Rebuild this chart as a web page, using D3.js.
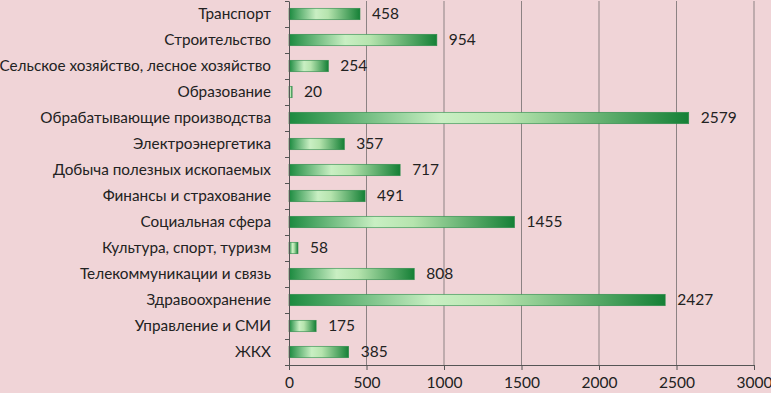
<!DOCTYPE html>
<html>
<head>
<meta charset="utf-8">
<script src="https://cdn.jsdelivr.net/npm/d3@7"></script>
<style>
  body { margin: 0; background: #f0d4d7; }
  svg { display: block; font-family: Lato, "Open Sans", sans-serif; }
  .axis path, .axis line { stroke: #555; }
  .axis text { fill: #222; }
</style>
</head>
<body>
<div id="chart"></div>
<script>
var categories = ["Транспорт", "Строительство", "Сельское хозяйство, лесное хозяйство",
  "Образование", "Обрабатывающие производства", "Электроэнергетика",
  "Добыча полезных ископаемых", "Финансы и страхование", "Социальная сфера",
  "Культура, спорт, туризм", "Телекоммуникации и связь", "Здравоохранение",
  "Управление и СМИ", "ЖКХ"];
var values = [458, 954, 254, 20, 2579, 357, 717, 491, 1455, 58, 808, 2427, 175, 385];
var xTicks = [0, 500, 1000, 1500, 2000, 2500, 3000];

var margin = { top: 1, right: 17, bottom: 28, left: 289 },
  width = 771 - margin.left - margin.right,
  height = 393 - margin.top - margin.bottom;

var x = d3.scaleLinear().domain([0, 3000]).range([0, width]);
var y = d3.scaleBand().domain(categories).range([0, height])
  .paddingInner(0.56).paddingOuter(0.28);
var yEdge = d3.scaleLinear().domain([0, categories.length]).range([0, height]);

var svg = d3.select("#chart").append("svg")
  .attr("width", 771)
  .attr("height", 393);

var defs = svg.append("defs");
var grad = defs.append("linearGradient").attr("id", "barGrad")
  .attr("x1", "0%").attr("x2", "100%").attr("y1", "0%").attr("y2", "0%");
grad.append("stop").attr("offset", "0%").attr("stop-color", "#1b8a3f");
grad.append("stop").attr("offset", "38%").attr("stop-color", "#c9efc3");
grad.append("stop").attr("offset", "55%").attr("stop-color", "#b6e4ae");
grad.append("stop").attr("offset", "100%").attr("stop-color", "#158036");

var g = svg.append("g")
  .attr("transform", "translate(" + margin.left + "," + margin.top + ")");

// gridlines
g.selectAll(".grid").data(xTicks.slice(1)).enter().append("line")
  .attr("class", "grid")
  .attr("x1", function (d) { return x(d); })
  .attr("x2", function (d) { return x(d); })
  .attr("y1", 0).attr("y2", height)
  .attr("stroke", "#8c8283").attr("stroke-width", 1);

// bars
g.selectAll(".bar").data(values).enter().append("rect")
  .attr("class", "bar")
  .attr("x", 0)
  .attr("y", function (d, i) { return y(categories[i]); })
  .attr("width", function (d) { return x(d); })
  .attr("height", y.bandwidth())
  .attr("fill", "url(#barGrad)")
  .attr("stroke", "#2b8c4a").attr("stroke-width", 0.6);

// value labels
g.selectAll(".val").data(values).enter().append("text")
  .attr("class", "val")
  .attr("x", function (d) { return x(d) + 12; })
  .attr("y", function (d, i) { return y(categories[i]) + y.bandwidth() / 2; })
  .attr("dy", "0.35em")
  .attr("font-size", 15.5)
  .attr("fill", "#222")
  .text(function (d) { return d; });

// y axis: category labels
g.append("g")
  .attr("class", "axis")
  .call(d3.axisLeft(y).tickSize(0).tickPadding(18))
  .call(function (s) { s.select(".domain").remove(); })
  .selectAll("text").attr("font-size", 15.3).style("font-family", "Lato, 'Open Sans', sans-serif");

// y axis line with ticks between categories
g.append("g")
  .attr("class", "axis")
  .call(d3.axisLeft(yEdge).ticks(categories.length).tickSize(4).tickSizeOuter(0).tickFormat(""));

// x axis
g.append("g")
  .attr("class", "axis")
  .attr("transform", "translate(0," + height + ")")
  .call(d3.axisBottom(x).tickValues(xTicks).tickSize(5).tickSizeOuter(0).tickPadding(7).tickFormat(d3.format("d")))
  .selectAll("text").attr("font-size", 15.5).style("font-family", "Lato, 'Open Sans', sans-serif");
</script>
</body>
</html>
